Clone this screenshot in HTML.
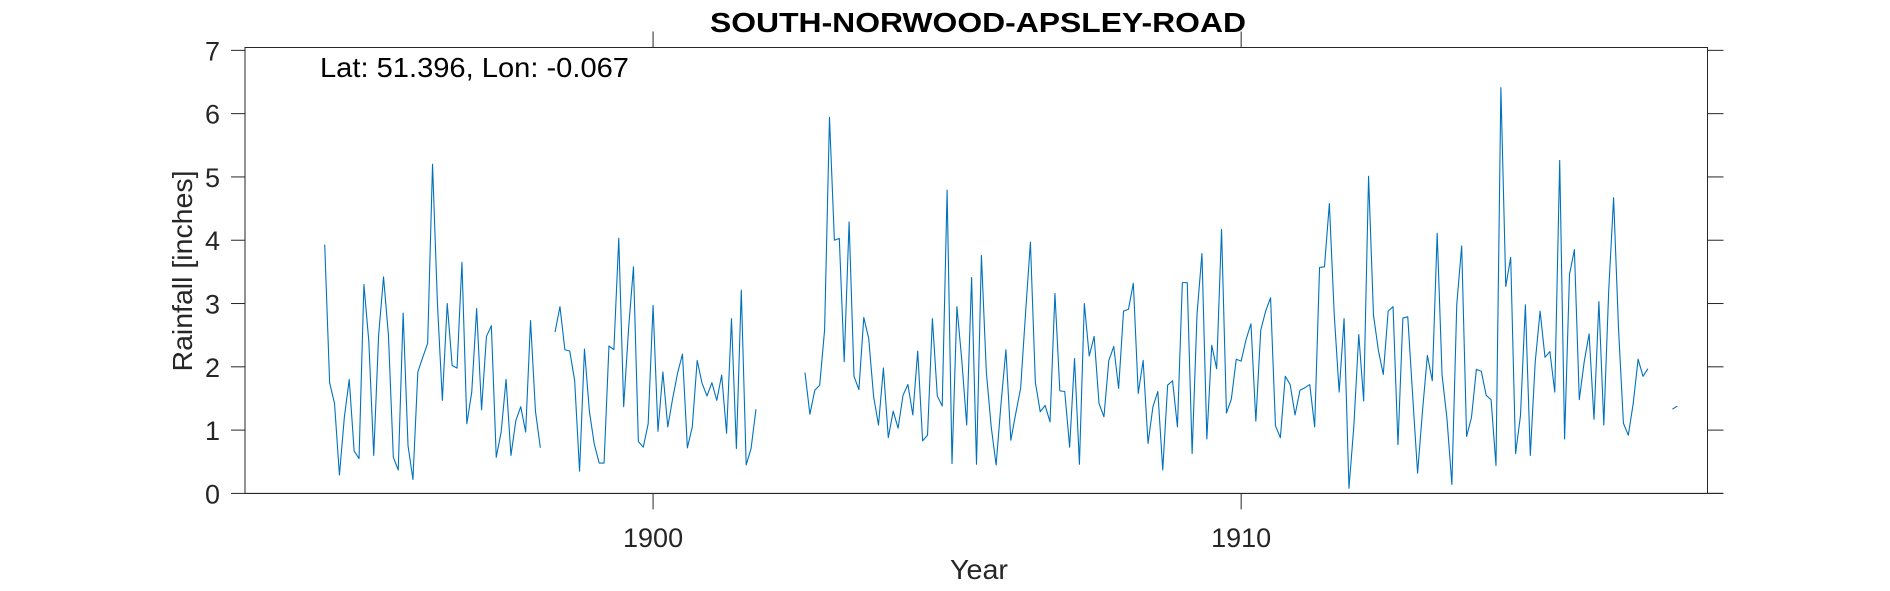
<!DOCTYPE html>
<html><head><meta charset="utf-8"><style>
body{margin:0;background:#fff;}
svg{display:block;font-family:"Liberation Sans",Arial,sans-serif;}
</style></head><body>
<svg id="chart" width="1890" height="591" viewBox="0 0 1890 591">
<text x="978" y="32" text-anchor="middle" font-size="28" font-weight="bold" fill="#000" textLength="536" lengthAdjust="spacingAndGlyphs">SOUTH-NORWOOD-APSLEY-ROAD</text>
<rect x="245" y="47.5" width="1462.5" height="446" fill="#fff" stroke="#262626" stroke-width="1"/>
<g id="axes"></g>
<g id="series"></g>
<text x="320" y="77" font-size="28" fill="#000" textLength="309" lengthAdjust="spacingAndGlyphs">Lat: 51.396, Lon: -0.067</text>
<text x="979" y="579" text-anchor="middle" font-size="28" fill="#262626" textLength="58" lengthAdjust="spacingAndGlyphs">Year</text>
<text transform="translate(192,271) rotate(-90)" text-anchor="middle" font-size="28" fill="#262626" textLength="201" lengthAdjust="spacingAndGlyphs">Rainfall [inches]</text>
</svg>
<script>
const startYear = 1894 + 5/12;
const seg1 = [3.93,1.75,1.42,0.29,1.2,1.8,0.67,0.55,3.3,2.4,0.6,2.5,3.42,2.5,0.57,0.37,2.85,0.75,0.22,1.92,2.15,2.37,5.2,3.0,1.47,3.0,2.02,1.98,3.65,1.1,1.6,2.92,1.32,2.48,2.65,0.57,0.97,1.8,0.6,1.15,1.37,0.97,2.73,1.3,0.72];
const seg2 = [2.55,2.95,2.27,2.25,1.78,0.35,2.28,1.3,0.78,0.48,0.48,2.33,2.27,4.03,1.37,2.6,3.58,0.82,0.73,1.1,2.97,0.98,1.92,1.05,1.5,1.9,2.2,0.72,1.05,2.1,1.74,1.54,1.75,1.47,1.87,0.95,2.76,0.71,3.21,0.45,0.71,1.33];
const seg3 = [1.91,1.25,1.63,1.71,2.58,5.94,4.0,4.03,2.08,4.29,1.85,1.64,2.78,2.45,1.53,1.08,1.98,0.88,1.3,1.03,1.55,1.72,1.24,2.25,0.83,0.92,2.76,1.54,1.38,4.79,
0.47,2.95,2.1,1.08,3.41,0.46,3.76,1.92,1.05,0.45,1.42,2.27,0.84,1.26,1.66,2.84,3.97,1.76,1.29,1.39,1.13,3.16,1.62,1.61,0.73,2.13,0.46,3.0,2.17,2.48,1.42,1.21,2.1,2.32,1.66,2.88,2.91,3.32,1.58,2.1,0.79,1.37,1.61,0.37,1.71,1.78,1.05,3.33,3.33,0.63,2.84,3.79,
0.86,2.34,1.97,4.17,1.27,1.49,2.12,2.09,2.43,2.68,1.14,2.58,2.88,3.09,1.07,0.88,1.85,1.72,1.24,1.63,1.67,1.72,1.05,3.57,3.58,4.58,2.82,1.6,2.76,0.08,1.07,2.51,1.46,5.01,2.82,2.26,1.88,2.88,2.95,0.77,2.77,2.79,1.54,0.32,1.3,2.18,1.78,4.11,1.87,1.18,0.14,2.99,3.91,0.9,1.2,1.96,1.93,1.55,1.48,0.44,6.41,3.27,3.73,0.63,1.23,2.98,0.6,2.07,2.88,2.15,2.24,1.6,5.26,0.86,3.46,3.85,1.48,2.08,2.52,1.17,3.03,1.08,3.2,4.67,2.61,1.11,0.92,1.42,2.12,1.85,1.97];
const seg4 = [1.33,1.38];
const gaps = [2, 9, 4];
const xTicks = [1900, 1910];
const yTicks = [0,1,2,3,4,5,6,7];

const NS = "http://www.w3.org/2000/svg";
const L = 245, R = 1707.5, T = 47.5, B = 493.4;
const xMin = 1893.061, xMax = 1917.93, yMin = 0, yMax = 7.045;
const xs = v => L + (v - xMin) / (xMax - xMin) * (R - L);
const ys = v => B - (v - yMin) / (yMax - yMin) * (B - T);

const values = [].concat(seg1, Array(gaps[0]).fill(null), seg2, Array(gaps[1]).fill(null), seg3, Array(gaps[2]).fill(null), seg4);

const axes = document.getElementById('axes');
function line(x1,y1,x2,y2,name){
  const l = document.createElementNS(NS,'line');
  l.setAttribute('x1',x1);l.setAttribute('y1',y1);l.setAttribute('x2',x2);l.setAttribute('y2',y2);
  l.setAttribute('stroke','#262626');l.setAttribute('stroke-width','1');
  
  
  axes.appendChild(l);
}
yTicks.forEach(t => {
  const y = ys(t);
  line(231, y, L, y, 'y-tick-left');
  line(R, y, R+16, y, 'y-tick-right');
  const tx = document.createElementNS(NS,'text');
  tx.setAttribute('x', 220); tx.setAttribute('y', y + 10);
  tx.setAttribute('text-anchor','end'); tx.setAttribute('font-size','27'); tx.setAttribute('fill','#262626');
  tx.textContent = t;
  
  
  axes.appendChild(tx);
});
xTicks.forEach(t => {
  const x = xs(t);
  line(x, B, x, B+16, 'x-tick-bottom');
  line(x, T, x, T-16, 'x-tick-top');
  const tx = document.createElementNS(NS,'text');
  tx.setAttribute('x', x); tx.setAttribute('y', 547);
  tx.setAttribute('text-anchor','middle'); tx.setAttribute('font-size','27'); tx.setAttribute('fill','#262626');
  tx.textContent = t;
  
  
  axes.appendChild(tx);
});
line(L, B, R+16, B, 'x-axis-line');

const series = document.getElementById('series');
let d = '', pen = false;
values.forEach((v, i) => {
  if (v === null) { pen = false; return; }
  const x = xs(startYear + i/12), y = ys(v);
  d += (pen ? 'L' : 'M') + x.toFixed(2) + ' ' + y.toFixed(2) + ' ';
  pen = true;
});
const p = document.createElementNS(NS,'path');
p.setAttribute('d', d);
p.setAttribute('fill','none'); p.setAttribute('stroke','#0072BD'); p.setAttribute('stroke-width','1.1');
p.setAttribute('stroke-linejoin','round');


series.appendChild(p);
</script>
</body></html>
